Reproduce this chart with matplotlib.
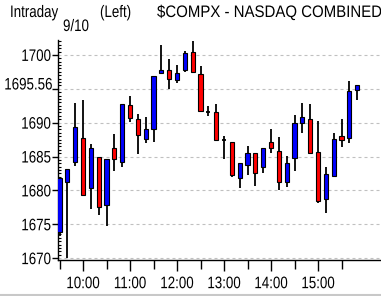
import matplotlib.pyplot as plt
from matplotlib.patches import Rectangle
from matplotlib.lines import Line2D
from matplotlib.patheffects import AbstractPathEffect
from matplotlib.ticker import MultipleLocator, FixedLocator
from matplotlib.transforms import Affine2D

# 10-minute candles, 9/10
times = ["9:30", "9:40", "9:50", "10:00", "10:10", "10:20", "10:30", "10:40", "10:50",
         "11:00", "11:10", "11:20", "11:30", "11:40", "11:50", "12:00", "12:10", "12:20",
         "12:30", "12:40", "12:50", "13:00", "13:10", "13:20", "13:30", "13:40", "13:50",
         "14:00", "14:10", "14:20", "14:30", "14:40", "14:50", "15:00", "15:10", "15:20",
         "15:30", "15:40", "15:50"]
opens = [1673.9, 1681.2, 1684.2, 1687.8, 1680.3, 1684.9, 1677.8, 1686.2, 1684.2,
         1692.65, 1690.6, 1687.65, 1689.1, 1697.35, 1697.7, 1696.3, 1697.7, 1700.5,
         1697.2, 1691.6, 1691.6, 1687.5, 1687.1, 1681.9, 1683.8, 1685.45, 1683.4,
         1687.1, 1685.8, 1681.2, 1684.8, 1690.0, 1690.6, 1685.6, 1678.7, 1682.1,
         1688.1, 1687.7, 1694.8]
highs = [1681.9, 1683.2, 1692.9, 1693.4, 1686.8, 1685.0, 1684.6, 1688.3, 1692.8,
         1694.0, 1691.3, 1690.9, 1696.9, 1701.5, 1699.4, 1698.5, 1700.6, 1702.1,
         1698.3, 1692.4, 1692.7, 1688.0, 1687.2, 1684.0, 1686.5, 1685.45, 1686.2,
         1689.1, 1687.9, 1685.05, 1691.2, 1692.9, 1692.8, 1690.2, 1683.4, 1688.4,
         1690.6, 1696.1, 1695.56]
lows = [1673.2, 1670.0, 1683.6, 1679.2, 1677.3, 1676.4, 1674.7, 1682.9, 1683.5,
        1690.1, 1685.4, 1687.0, 1687.2, 1697.2, 1694.9, 1695.9, 1697.55, 1697.45,
        1691.6, 1691.0, 1687.4, 1684.6, 1682.0, 1680.4, 1682.2, 1680.7, 1682.5,
        1685.45, 1680.1, 1680.5, 1682.85, 1688.5, 1685.45, 1678.1, 1676.6, 1682.0,
        1686.4, 1687.05, 1693.3]
closes = [1681.9, 1683.2, 1689.3, 1679.3, 1686.2, 1677.5, 1684.6, 1684.7, 1692.8,
          1690.7, 1688.2, 1689.0, 1696.9, 1697.7, 1696.5, 1697.35, 1700.3, 1697.55,
          1691.7, 1691.6, 1687.4, 1687.5, 1682.2, 1684.0, 1685.45, 1682.5, 1686.2,
          1686.2, 1681.2, 1684.1, 1690.0, 1690.9, 1685.5, 1678.4, 1682.4, 1687.65,
          1687.45, 1694.7, 1695.56]
last_price = 1695.56
hour_labels = ["10:00", "11:00", "12:00", "13:00", "14:00", "15:00"]

plt.rcParams['font.family'] = ['Liberation Sans', 'DejaVu Sans']
plt.rcParams['font.size'] = 12


class Narrow(AbstractPathEffect):
    # squeeze text horizontally (the original uses a tall, narrow bitmap font)
    def __init__(self, sx=0.8, pivot='left'):
        super().__init__()
        self.sx = sx
        self.pivot = pivot

    def draw_path(self, renderer, gc, tpath, affine, rgbFace=None):
        xmax = tpath.vertices[:, 0].max() if len(tpath.vertices) else 0
        px = {'left': 0, 'center': xmax / 2, 'right': xmax}[self.pivot]
        squeeze = Affine2D().translate(-px, 0).scale(self.sx, 1).translate(px, 0)
        renderer.draw_path(gc, tpath, squeeze + affine, rgbFace)


def to_hours(t):
    h, m = t.split(":")
    return int(h) + int(m) / 60


xs = [to_hours(t) for t in times]

fig = plt.figure(figsize=(3.81, 2.96), dpi=100)
ax = fig.add_axes([58 / 381, (296 - 259.5) / 296, (381 - 58) / 381, 219.5 / 296])

w = 0.09
for x, o, h, l, c in zip(xs, opens, highs, lows, closes):
    ax.vlines(x, l, h, color='black', lw=1.3, zorder=2)
    if c > o:
        ax.add_patch(Rectangle((x - w / 2, o), w, c - o, facecolor='#0000ff',
                               edgecolor='black', lw=0.8, zorder=3))
    elif c < o:
        ax.add_patch(Rectangle((x - w / 2, c), w, o - c, facecolor='#ff0000',
                               edgecolor='black', lw=0.8, zorder=3))
    else:
        ax.hlines(o, x - w / 2, x + w / 2, color='black', lw=1.3, zorder=3)

ax.set_xlim(9.468, 16.34)
ax.set_ylim(1669.8, 1702.2)

# the 1695 label sits under the last-price label
hidden = int(last_price)
ax.yaxis.set_major_locator(MultipleLocator(5))
ax.yaxis.set_minor_locator(MultipleLocator(0.5))
ax.yaxis.set_major_formatter(plt.FuncFormatter(
    lambda v, p: "" if abs(v - hidden) < 0.01 else f"{v:.0f}"))
ax.tick_params(axis='y', which='major', direction='out', length=4, width=1, pad=1)
ax.tick_params(axis='y', which='minor', direction='in', length=1.8, width=0.8)

hour_pos = [to_hours(t) for t in hour_labels]
half_pos = [hp - 0.5 for hp in hour_pos] + [hour_pos[-1] + 0.5]
ax.xaxis.set_major_locator(FixedLocator(hour_pos))
ax.set_xticklabels(hour_labels)
ax.xaxis.set_minor_locator(FixedLocator(half_pos))
ax.tick_params(axis='x', which='major', direction='out', length=8, width=1, pad=4)
ax.tick_params(axis='x', which='minor', direction='out', length=6.5, width=1)

ax.grid(axis='y', which='major', color='#c0c0c0', lw=0.8, linestyle=(0, (2.7, 2.7)))
ax.set_axisbelow(True)
for s in ['top', 'right']:
    ax.spines[s].set_visible(False)
for s in ['left', 'bottom']:
    ax.spines[s].set_linewidth(1)

lp = ax.text(-5.5 / 323, last_price, f"{last_price:.2f}", transform=ax.get_yaxis_transform(),
             ha='right', va='center', clip_on=False)
lp.set_path_effects([Narrow(0.8, 'right')])

top = 1 - 17 / 296
titles = [
    (fig.text(10 / 381, top, "Intraday", ha='left', va='baseline'), 0.8),
    (fig.text(100 / 381, top, "(Left)", ha='left', va='baseline'), 0.8),
    (fig.text(157 / 381, top, "$COMPX - NASDAQ COMBINED", ha='left', va='baseline'), 0.9),
    (fig.text(63 / 381, 1 - 31 / 296, "9/10", ha='left', va='baseline'), 0.8),
]
for t, sx in titles:
    t.set_path_effects([Narrow(sx, 'left')])

fig.add_artist(Line2D([0, 1], [1 / 296, 1 / 296], transform=fig.transFigure,
                      color='#c8c8c8', lw=1.5))

fig.canvas.draw()
for lbl in ax.get_yticklabels():
    lbl.set_path_effects([Narrow(0.8, 'right')])
for lbl in ax.get_xticklabels():
    lbl.set_path_effects([Narrow(0.8, 'center')])

fig.savefig("out.png", dpi=100)
